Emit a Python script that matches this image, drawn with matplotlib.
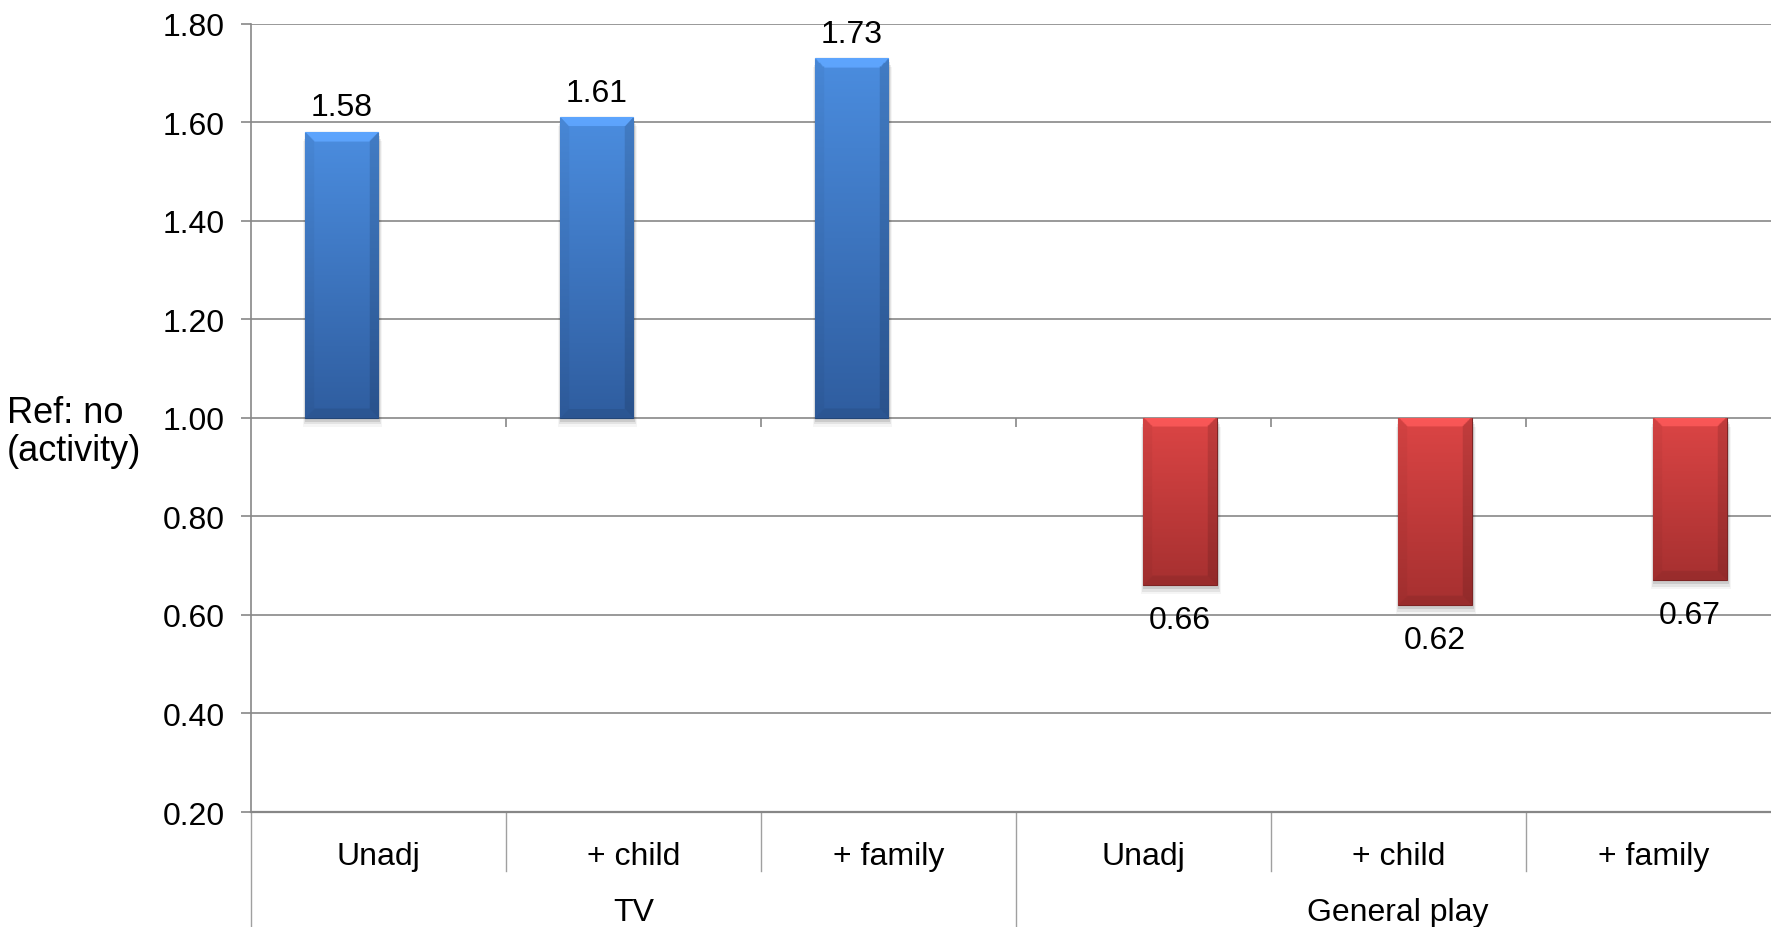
import numpy as np
import matplotlib.pyplot as plt
from matplotlib.colors import to_rgb
from matplotlib.patches import Rectangle
import matplotlib.transforms as mtransforms

plt.rcParams['font.family'] = ['Liberation Sans', 'DejaVu Sans']

# odds ratios, reference level 1.00
subcats = ["Unadj", "+ child", "+ family", "Unadj", "+ child", "+ family"]
groups = ["TV", "General play"]
tv_vals = [1.58, 1.61, 1.73]
play_vals = [0.66, 0.62, 0.67]
baseline = 1.0
yticks = [0.20, 0.40, 0.60, 0.80, 1.00, 1.20, 1.40, 1.60, 1.80]

blue_top, blue_bot = "#4b8ddf", "#2f5d9f"
red_top, red_bot = "#dc4545", "#a63030"
grid_c = "#878787"
fs = 23

fig = plt.figure(figsize=(17.71, 9.28), dpi=100)
ax = fig.add_axes((0.1416, 0.1239, 0.8639, 0.8494))
ax.set_xlim(-0.5, 5.5)
ax.set_ylim(0.2, 1.8)

w = 0.288
x_tv = np.arange(3) - w / 2
x_play = np.arange(3, 6) + w / 2
tv_h = [v - baseline for v in tv_vals]
play_h = [v - baseline for v in play_vals]

bars_tv = ax.bar(x_tv, tv_h, width=w, bottom=baseline, color=blue_top, zorder=3)
bars_play = ax.bar(x_play, play_h, width=w, bottom=baseline, color=red_top, zorder=3)

ax_h_px = 0.8494 * 928
ax_w_px = 0.8639 * 1771


def bevel_fill(bar, c_top, c_bot):
    x0, y0 = bar.get_x(), bar.get_y()
    bw, bh = bar.get_width(), bar.get_height()
    ylo, yhi = min(y0, y0 + bh), max(y0, y0 + bh)
    ny, nx = 300, 80
    t = np.linspace(0, 1, ny)[:, None]          # 0 bottom, 1 top
    top = np.array(to_rgb(c_top))
    bot = np.array(to_rgb(c_bot))
    img = bot + (top - bot) * t[..., None] * np.ones((1, nx, 1))
    # bevel size in pixels converted to fractions
    hpx = (yhi - ylo) / 1.6 * ax_h_px
    wpx = bw / 6 * ax_w_px
    fx = np.linspace(0, 1, nx)[None, :] * wpx
    fy = (1 - np.linspace(0, 1, ny)[:, None]) * hpx   # distance from top
    fyb = np.linspace(0, 1, ny)[:, None] * hpx        # distance from bottom
    bev = 9.0
    left = fx < bev
    right = fx > wpx - bev
    topb = (fy < bev) & (fy <= np.minimum(fx, wpx - fx))
    botb = (fyb < bev) & (fyb <= np.minimum(fx, wpx - fx))
    img = img.copy()
    img[(left & ~topb & ~botb)] *= 0.96
    img[(right & ~topb & ~botb)] *= 0.88
    img[topb] = np.clip(img[topb] * 1.08 + 0.05, 0, 1)
    img[botb] *= 0.92
    im = ax.imshow(img, extent=(x0, x0 + bw, ylo, yhi), origin='lower',
                   aspect='auto', zorder=3, interpolation='bilinear')
    im.set_clip_path(bar)
    # soft shadow under the bar
    off = 4 / ax_h_px * 1.6
    for k, a in enumerate([0.10, 0.07, 0.04]):
        grow = (k + 1) * 2 / ax_w_px * 6
        sh = Rectangle((x0 - grow / 2 + 0.004, ylo - off - k * off * 0.6),
                       bw + grow, yhi - ylo, color="black", alpha=a,
                       lw=0, zorder=2.5)
        ax.add_patch(sh)
    bar.set_edgecolor(np.array(to_rgb(c_bot)) * 0.75)
    bar.set_linewidth(0.8)


for b in bars_tv:
    bevel_fill(b, blue_top, blue_bot)
for b in bars_play:
    bevel_fill(b, red_top, red_bot)

# value labels
for x, v in zip(x_tv, tv_vals):
    ax.annotate(f"{v:.2f}", (x, v), xytext=(0, 7), textcoords="offset points",
                ha="center", va="bottom", fontsize=fs, zorder=5)
for x, v in zip(x_play, play_vals):
    ax.annotate(f"{v:.2f}", (x, v), xytext=(0, -14), textcoords="offset points",
                ha="center", va="top", fontsize=fs, zorder=5)

# axes styling
ax.set_yticks(yticks)
ax.set_yticklabels([f"{t:.2f}" for t in yticks], fontsize=fs)
ax.yaxis.grid(True, color=grid_c, lw=1.2, zorder=1)
ax.tick_params(axis="y", length=7, width=1.2, color=grid_c, pad=12)
ax.set_xticks([])
for s in ["top", "right"]:
    ax.spines[s].set_visible(False)
ax.spines["left"].set_color(grid_c)
ax.spines["left"].set_linewidth(1.2)
ax.spines["bottom"].set_color(grid_c)
ax.spines["bottom"].set_linewidth(1.6)

# category ticks on the 1.00 axis
ax.vlines(np.arange(0.5, 5.5, 1.0), baseline - 0.018, baseline,
          color=grid_c, lw=1.2, zorder=2)

# multi-level category labels below the plot
trans = mtransforms.blended_transform_factory(ax.transData, ax.transAxes)
for i, lab in enumerate(subcats):
    ax.text(i, -0.056, lab, transform=trans, ha="center", va="center", fontsize=fs)
for gx, lab in zip([1, 4], groups):
    ax.text(gx, -0.127, lab, transform=trans, ha="center", va="center", fontsize=fs)
for sx in [0.5, 1.5, 3.5, 4.5]:
    ax.plot([sx, sx], [0, -0.075], transform=trans, color="#a0a0a0", lw=1.0,
            clip_on=False)
for gx in [-0.5, 2.5, 5.5]:
    ax.plot([gx, gx], [0, -0.15], transform=trans, color="#a0a0a0", lw=1.0,
            clip_on=False)

fig.text(0.004, 0.534, "Ref: no\n(activity)", ha="left", va="center",
         fontsize=26, linespacing=1.1)

fig.savefig("out.png", dpi=100)
